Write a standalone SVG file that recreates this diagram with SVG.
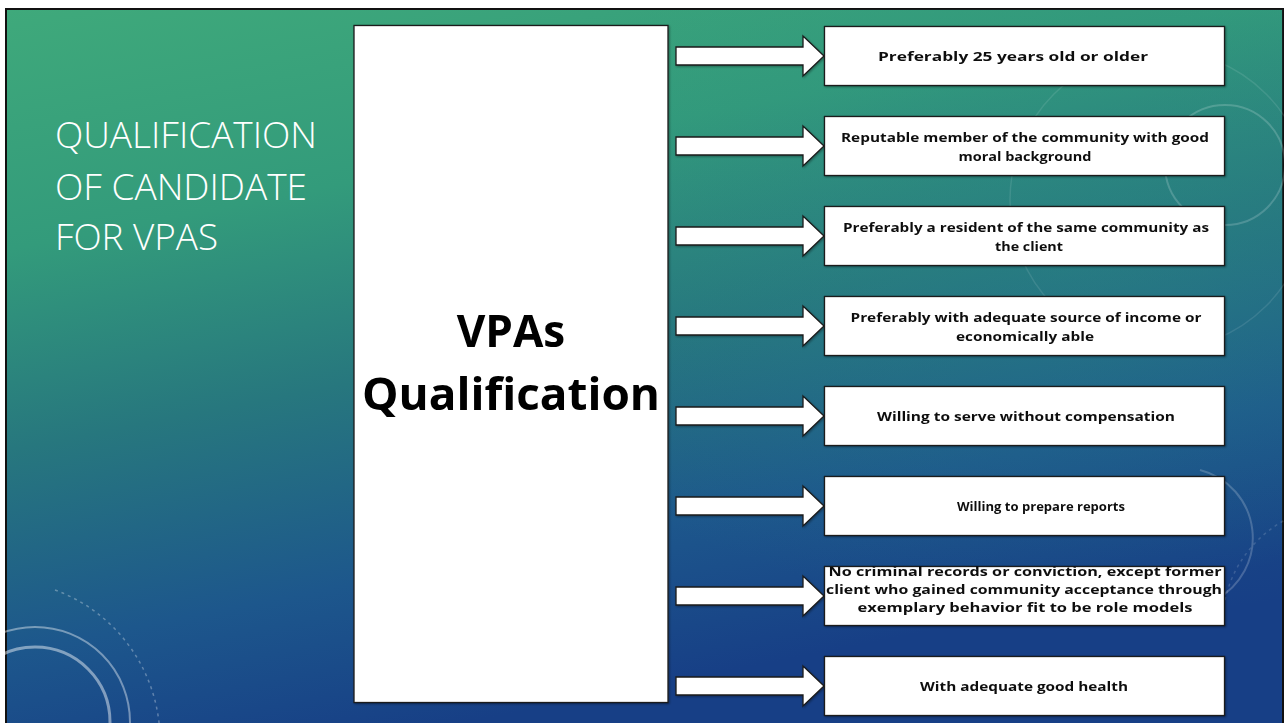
<svg xmlns="http://www.w3.org/2000/svg" xmlns:xlink="http://www.w3.org/1999/xlink" width="1285" height="723" viewBox="0 0 1285 723">
  <defs>
    <linearGradient id="bg" x1="0" y1="0" x2="0.35" y2="1">
      <stop offset="0" stop-color="#3fa97b"/>
      <stop offset="0.3" stop-color="#339b7b"/>
      <stop offset="0.55" stop-color="#27777e"/>
      <stop offset="0.8" stop-color="#1d578c"/>
      <stop offset="1" stop-color="#173f86"/>
    </linearGradient>
    <radialGradient id="glow" cx="0.85" cy="0.35" r="0.5">
      <stop offset="0" stop-color="#2a8a86" stop-opacity="0.35"/>
      <stop offset="1" stop-color="#2a8a86" stop-opacity="0"/>
    </radialGradient>
    <filter id="sh" x="-5%" y="-5%" width="110%" height="115%">
      <feDropShadow dx="1" dy="1" stdDeviation="0.8" flood-color="#000" flood-opacity="0.35"/>
    </filter>
  </defs>
  <style>
    .title { font-family: "Open Sans", "Liberation Sans", sans-serif; font-weight: 300; font-size: 36px; fill: #ffffff; }
    .box { fill: #ffffff; stroke: #1a1a1a; stroke-width: 1.3; }
    .arrow { fill: #ffffff; stroke: #1a1a1a; stroke-width: 1.3; stroke-linejoin: miter; }
    .lbl { font-family: "Open Sans", "Liberation Sans", sans-serif; font-weight: 700; font-size: 12.5px; fill: #111111; text-anchor: middle; }
    .big { font-family: "Open Sans", "Liberation Sans", sans-serif; font-weight: 700; font-size: 44px; fill: #000000; text-anchor: middle; }
    .deco { fill: none; stroke: #ffffff; }
  </style>

  <!-- background -->
  <rect x="0" y="0" width="1285" height="723" fill="#ffffff"/>
  <rect x="6" y="9" width="1277" height="716" fill="url(#bg)" stroke="#111" stroke-width="2"/>
  <rect x="6" y="9" width="1277" height="716" fill="url(#glow)"/>
  <g id="decoration">
    <circle class="deco" cx="35" cy="722" r="95" stroke-opacity="0.4" stroke-width="2"/>
    <circle class="deco" cx="35" cy="722" r="75" stroke-opacity="0.45" stroke-width="3"/>
    <path class="deco" d="M 55 590 A 160 160 0 0 1 160 740" stroke-opacity="0.3" stroke-width="1.5" stroke-dasharray="3 4"/>
    <circle class="deco" cx="1225" cy="165" r="60" stroke-opacity="0.18" stroke-width="2"/>
    <circle class="deco" cx="1160" cy="200" r="150" stroke-opacity="0.1" stroke-width="1.5"/>
    <path class="deco" d="M 1200 470 A 70 70 0 0 1 1215 600" stroke-opacity="0.2" stroke-width="2"/>
    <path class="deco" d="M 1225 600 A 120 120 0 0 1 1285 520" stroke-opacity="0.15" stroke-width="1.5" stroke-dasharray="3 4"/>
  </g>

  <!-- title -->
  <g id="title">
    <text class="title" x="55" y="148" textLength="262" lengthAdjust="spacingAndGlyphs">QUALIFICATION</text>
    <text class="title" x="55" y="200" textLength="252" lengthAdjust="spacingAndGlyphs">OF CANDIDATE</text>
    <text class="title" x="55" y="250" textLength="163" lengthAdjust="spacingAndGlyphs">FOR VPAS</text>
  </g>

  <!-- central node -->
  <g id="center" filter="url(#sh)">
    <rect class="box" x="354" y="25.5" width="314" height="677"/>
    <text class="big" x="511" y="347">VPAs</text>
    <text class="big" x="511" y="410" textLength="298" lengthAdjust="spacingAndGlyphs">Qualification</text>
  </g>

  <!-- connectors -->
  <g id="connectors" filter="url(#sh)">
    <polygon class="arrow" points="676,47 803,47 803,36 824,56 803,76 803,65 676,65"/>
    <polygon class="arrow" points="676,137 803,137 803,126 824,146 803,166 803,155 676,155"/>
    <polygon class="arrow" points="676,227 803,227 803,216 824,236 803,256 803,245 676,245"/>
    <polygon class="arrow" points="676,317 803,317 803,306 824,326 803,346 803,335 676,335"/>
    <polygon class="arrow" points="676,407 803,407 803,396 824,416 803,436 803,425 676,425"/>
    <polygon class="arrow" points="676,497 803,497 803,486 824,506 803,526 803,515 676,515"/>
    <polygon class="arrow" points="676,587 803,587 803,576 824,596 803,616 803,605 676,605"/>
    <polygon class="arrow" points="676,677 803,677 803,666 824,686 803,706 803,695 676,695"/>
  </g>

  <!-- nodes -->
  <g id="n1" filter="url(#sh)">
    <rect class="box" x="824.5" y="26.5" width="400" height="59"/>
    <text class="lbl" x="1013" y="61" textLength="270" lengthAdjust="spacingAndGlyphs">Preferably 25 years old or older</text>
  </g>
  <g id="n2" filter="url(#sh)">
    <rect class="box" x="824.5" y="116.5" width="400" height="59"/>
    <text class="lbl" x="1025" y="142" textLength="368" lengthAdjust="spacingAndGlyphs">Reputable member of the community with good</text>
    <text class="lbl" x="1025" y="161" textLength="133" lengthAdjust="spacingAndGlyphs">moral background</text>
  </g>
  <g id="n3" filter="url(#sh)">
    <rect class="box" x="824.5" y="206.5" width="400" height="59"/>
    <text class="lbl" x="1026" y="232" textLength="366" lengthAdjust="spacingAndGlyphs">Preferably a resident of the same community as</text>
    <text class="lbl" x="1029" y="251" textLength="68" lengthAdjust="spacingAndGlyphs">the client</text>
  </g>
  <g id="n4" filter="url(#sh)">
    <rect class="box" x="824.5" y="296.5" width="400" height="59"/>
    <text class="lbl" x="1026" y="322" textLength="351" lengthAdjust="spacingAndGlyphs">Preferably with adequate source of income or</text>
    <text class="lbl" x="1025" y="341" textLength="138" lengthAdjust="spacingAndGlyphs">economically able</text>
  </g>
  <g id="n5" filter="url(#sh)">
    <rect class="box" x="824.5" y="386.5" width="400" height="59"/>
    <text class="lbl" x="1026" y="421" textLength="298" lengthAdjust="spacingAndGlyphs">Willing to serve without compensation</text>
  </g>
  <g id="n6" filter="url(#sh)">
    <rect class="box" x="824.5" y="476.5" width="400" height="59"/>
    <text class="lbl" x="1041" y="511" textLength="168" lengthAdjust="spacingAndGlyphs">Willing to prepare reports</text>
  </g>
  <g id="n7" filter="url(#sh)">
    <rect class="box" x="824.5" y="566.5" width="400" height="59"/>
    <text class="lbl" x="1025" y="576" textLength="393" lengthAdjust="spacingAndGlyphs">No criminal records or conviction, except former</text>
    <text class="lbl" x="1024" y="594" textLength="396" lengthAdjust="spacingAndGlyphs">client who gained community acceptance through</text>
    <text class="lbl" x="1025" y="612" textLength="335" lengthAdjust="spacingAndGlyphs">exemplary behavior fit to be role models</text>
  </g>
  <g id="n8" filter="url(#sh)">
    <rect class="box" x="824.5" y="656.5" width="400" height="59"/>
    <text class="lbl" x="1024" y="691" textLength="208" lengthAdjust="spacingAndGlyphs">With adequate good health</text>
  </g>
</svg>
